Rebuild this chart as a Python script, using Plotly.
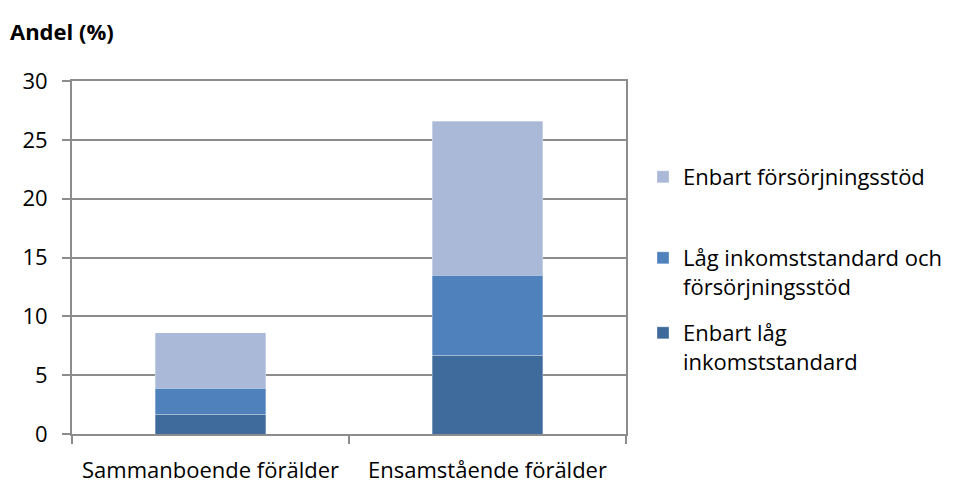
import plotly.graph_objects as go

# data
categories = ["Sammanboende förälder", "Ensamstående förälder"]
series_names = [
    "Enbart låg<br>inkomststandard",
    "Låg inkomststandard och<br>försörjningsstöd",
    "Enbart försörjningsstöd",
]
low_income_only = [1.7, 6.7]
low_income_and_support = [2.2, 6.8]
support_only = [4.7, 13.1]
y_ticks = [0, 5, 10, 15, 20, 25, 30]

colors = ["#3f6a9c", "#4f81bd", "#aab9d7"]
series_values = [low_income_only, low_income_and_support, support_only]
legend_ids = ["legend3", "legend2", "legend"]

FONT = "Open Sans"
OFF = 8  # the page body adds an 8px margin
W, H = 955 - OFF, 486 - OFF
plot_left, plot_right, plot_top, plot_bottom = 72 - OFF, 626 - OFF, 81 - OFF, 434 - OFF

fig = go.Figure()
for name, vals, col, lg in zip(series_names, series_values, colors, legend_ids):
    fig.add_trace(go.Bar(
        x=categories, y=vals, name=name, legend=lg, showlegend=True,
        marker=dict(color=col, line=dict(width=0.6, color="rgba(255,255,255,0.5)")),
    ))

def paper_y(px):
    return (plot_bottom - (px - OFF)) / (plot_bottom - plot_top)

def paper_x(px):
    return ((px - OFF) - plot_left) / (plot_right - plot_left)

legend_style = dict(
    font=dict(family=FONT, size=22, color="#000000"),
    xanchor="left", yanchor="top", valign="top",
    bgcolor="rgba(0,0,0,0)", itemwidth=30, visible=True,
)

axis_grey = "#8c8c8c"
fig.update_layout(
    width=W, height=H,
    barmode="stack", bargap=0.6, showlegend=True,
    plot_bgcolor="white", paper_bgcolor="white",
    margin=dict(l=plot_left, r=W - plot_right, t=plot_top, b=H - plot_bottom,
                autoexpand=False),
    font=dict(family=FONT, size=22, color="#000000"),
    title=dict(text="<b>Andel (%)</b>", font=dict(family=FONT, size=22),
               xref="container", yref="container", x=(10 - OFF) / W,
               y=1 - (32 - OFF) / H, xanchor="left", yanchor="middle"),
    legend=dict(x=paper_x(643), y=paper_y(156), **legend_style),
    legend2=dict(x=paper_x(643), y=paper_y(237), **legend_style),
    legend3=dict(x=paper_x(643), y=paper_y(312), **legend_style),
    xaxis=dict(
        showgrid=False, showline=True, linecolor=axis_grey, linewidth=2,
        mirror=True, ticks="outside", tickson="boundaries", ticklen=8,
        tickcolor=axis_grey, tickwidth=2, ticklabelstandoff=16,
        tickfont=dict(family=FONT, size=22), automargin=False,
    ),
    yaxis=dict(
        range=[0, 30], tickvals=y_ticks, showgrid=True, gridcolor=axis_grey,
        gridwidth=2, showline=True, linecolor=axis_grey, linewidth=2,
        mirror=True, ticks="outside", ticklen=8, tickcolor=axis_grey,
        tickwidth=2, zeroline=False, ticklabelstandoff=10,
        tickfont=dict(family=FONT, size=22), automargin=False,
    ),
)

fig.write_html("out.html")
